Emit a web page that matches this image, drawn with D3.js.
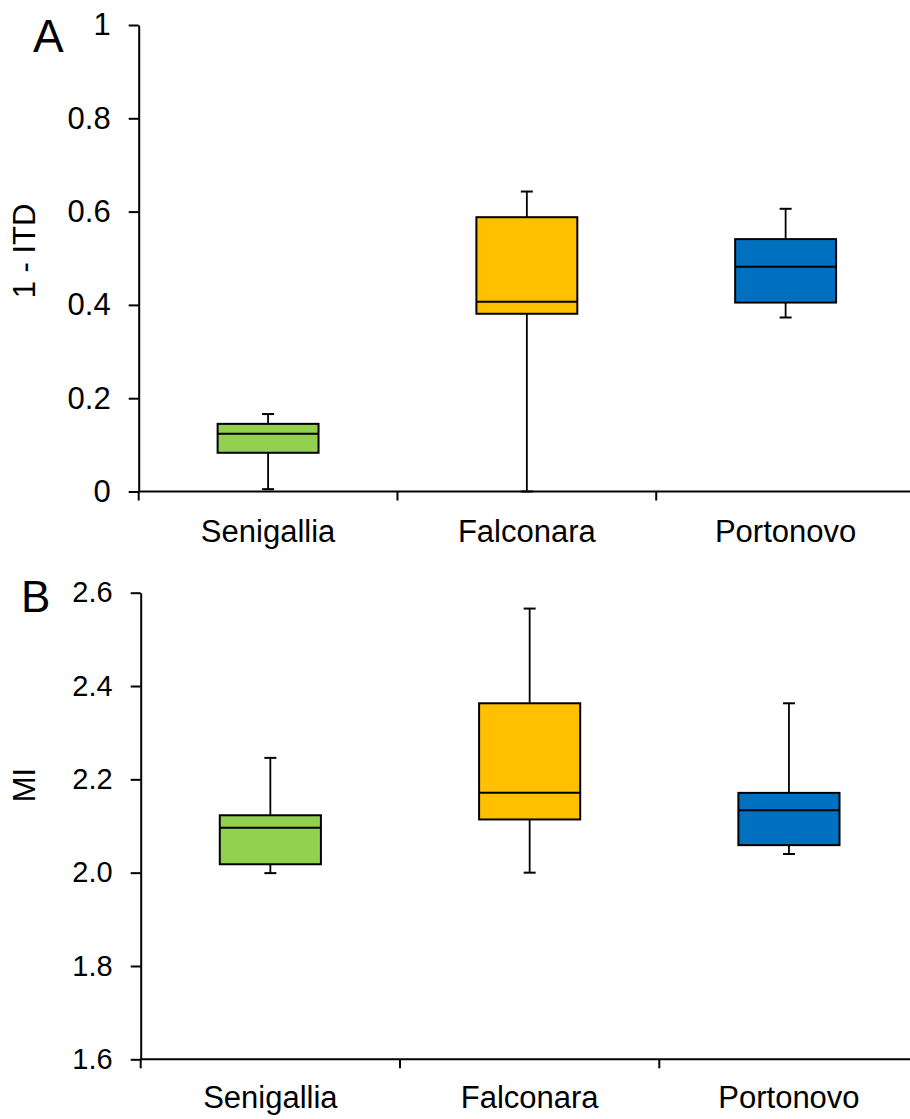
<!DOCTYPE html>
<html>
<head>
<meta charset="utf-8">
<script src="https://cdn.jsdelivr.net/npm/d3@7"></script>
<style>
  html, body { margin: 0; padding: 0; background: #fff; }
  svg { display: block; }
  text { font-family: "Liberation Sans", Arial, sans-serif; fill: #000; }
</style>
</head>
<body>
<svg id="chart" width="910" height="1119"></svg>
<script>
// Sampling sites
const sites = ["Senigallia", "Falconara", "Portonovo"];
const siteColors = ["#92D050", "#FFC000", "#0070C0"];

// Panel A: 1 - ITD box statistics per site
const itdMin = [0.005, 0.000, 0.373];
const itdQ1  = [0.083, 0.381, 0.405];
const itdMed = [0.124, 0.407, 0.482];
const itdQ3  = [0.145, 0.588, 0.541];
const itdMax = [0.166, 0.643, 0.606];
const itdTicks = [0, 0.2, 0.4, 0.6, 0.8, 1];
const itdTickLabels = ["0", "0.2", "0.4", "0.6", "0.8", "1"];

// Panel B: MI box statistics per site
const miMin = [1.999, 2.000, 2.040];
const miQ1  = [2.018, 2.114, 2.059];
const miMed = [2.096, 2.171, 2.134];
const miQ3  = [2.123, 2.363, 2.171];
const miMax = [2.246, 2.566, 2.363];
const miTicks = [1.6, 1.8, 2.0, 2.2, 2.4, 2.6];
const miTickLabels = ["1.6", "1.8", "2.0", "2.2", "2.4", "2.6"];

const svg = d3.select("#chart");

function panel(cfg) {
  const g = svg.append("g");
  const x = d3.scaleBand().domain(sites).range([cfg.left, cfg.right]).paddingInner(0).paddingOuter(0);
  const y = d3.scaleLinear().domain(cfg.domain).range([cfg.bottom, cfg.top]);

  const rows = sites.map((s, i) => ({
    site: s, color: siteColors[i],
    min: cfg.min[i], q1: cfg.q1[i], med: cfg.med[i], q3: cfg.q3[i], max: cfg.max[i]
  }));

  const boxW = x.bandwidth() * 0.39;
  const capW = 12;

  const bx = g.selectAll("g.box").data(rows).join("g").attr("class", "box")
    .attr("transform", d => `translate(${x(d.site) + x.bandwidth() / 2},0)`);
  // whiskers and caps
  bx.append("line").attr("x1", 0).attr("x2", 0)
    .attr("y1", d => y(d.max)).attr("y2", d => y(d.q3))
    .attr("stroke", "#000").attr("stroke-width", 1.8);
  bx.append("line").attr("x1", 0).attr("x2", 0)
    .attr("y1", d => y(d.q1)).attr("y2", d => y(d.min))
    .attr("stroke", "#000").attr("stroke-width", 1.8);
  bx.append("line").attr("x1", -capW / 2).attr("x2", capW / 2)
    .attr("y1", d => y(d.max)).attr("y2", d => y(d.max))
    .attr("stroke", "#000").attr("stroke-width", 2);
  bx.append("line").attr("x1", -capW / 2).attr("x2", capW / 2)
    .attr("y1", d => y(d.min)).attr("y2", d => y(d.min))
    .attr("stroke", "#000").attr("stroke-width", 2);
  // boxes and medians
  bx.append("rect").attr("x", -boxW / 2).attr("width", boxW)
    .attr("y", d => y(d.q3)).attr("height", d => y(d.q1) - y(d.q3))
    .attr("fill", d => d.color).attr("stroke", "#000").attr("stroke-width", 2);
  bx.append("line").attr("x1", -boxW / 2).attr("x2", boxW / 2)
    .attr("y1", d => y(d.med)).attr("y2", d => y(d.med))
    .attr("stroke", "#000").attr("stroke-width", 2);

  // y axis
  const yAxis = d3.axisLeft(y).tickValues(cfg.ticks)
    .tickFormat((d, i) => cfg.tickLabels[i]).tickSize(10).tickPadding(18).tickSizeOuter(0);
  const ya = g.append("g").attr("transform", `translate(${cfg.left},0)`).call(yAxis);
  ya.select(".domain").attr("stroke-width", 2);
  ya.selectAll(".tick line").attr("stroke-width", 2);
  ya.selectAll(".tick text").style("font-size", cfg.tickSize + "px");

  // x axis: baseline, category boundary ticks and labels
  const xa = g.append("g").attr("transform", `translate(0,${cfg.bottom})`);
  xa.append("line").attr("x1", cfg.left).attr("x2", cfg.right)
    .attr("y1", 0).attr("y2", 0).attr("stroke", "#000").attr("stroke-width", 2);
  const bounds = sites.map(s => x(s));
  xa.selectAll("line.bt").data(bounds).join("line").attr("class", "bt")
    .attr("x1", d => d).attr("x2", d => d).attr("y1", 0).attr("y2", 9)
    .attr("stroke", "#000").attr("stroke-width", 2);
  xa.selectAll("text.cat").data(sites).join("text").attr("class", "cat")
    .attr("text-anchor", "middle")
    .attr("x", d => x(d) + x.bandwidth() / 2).attr("y", cfg.labelBase)
    .style("font-size", cfg.fontSize + "px")
    .text(d => d);

  // y title
  g.append("text").attr("text-anchor", "middle").attr("dominant-baseline", "central")
    .attr("transform", `translate(${cfg.titleX},${cfg.titleY}) rotate(-90)`)
    .style("font-size", cfg.fontSize + "px").text(cfg.title);

  // panel letter
  g.append("text").attr("x", cfg.letterX).attr("y", cfg.letterY)
    .style("font-size", cfg.letterSize + "px").text(cfg.letter);
}

panel({
  left: 138.7, right: 915, top: 25, bottom: 491.5, domain: [0, 1],
  min: itdMin, q1: itdQ1, med: itdMed, q3: itdQ3, max: itdMax,
  ticks: itdTicks, tickLabels: itdTickLabels,
  fontSize: 31, tickSize: 31, labelBase: 50, title: "1 - ITD", titleX: 24, titleY: 251,
  letter: "A", letterX: 33, letterY: 52, letterSize: 46
});

panel({
  left: 140.7, right: 918.6, top: 592.7, bottom: 1059.3, domain: [1.6, 2.6],
  min: miMin, q1: miQ1, med: miMed, q3: miQ3, max: miMax,
  ticks: miTicks, tickLabels: miTickLabels,
  fontSize: 31, tickSize: 29, labelBase: 49, title: "MI", titleX: 24, titleY: 785,
  letter: "B", letterX: 21, letterY: 612, letterSize: 44
});
</script>
</body>
</html>
